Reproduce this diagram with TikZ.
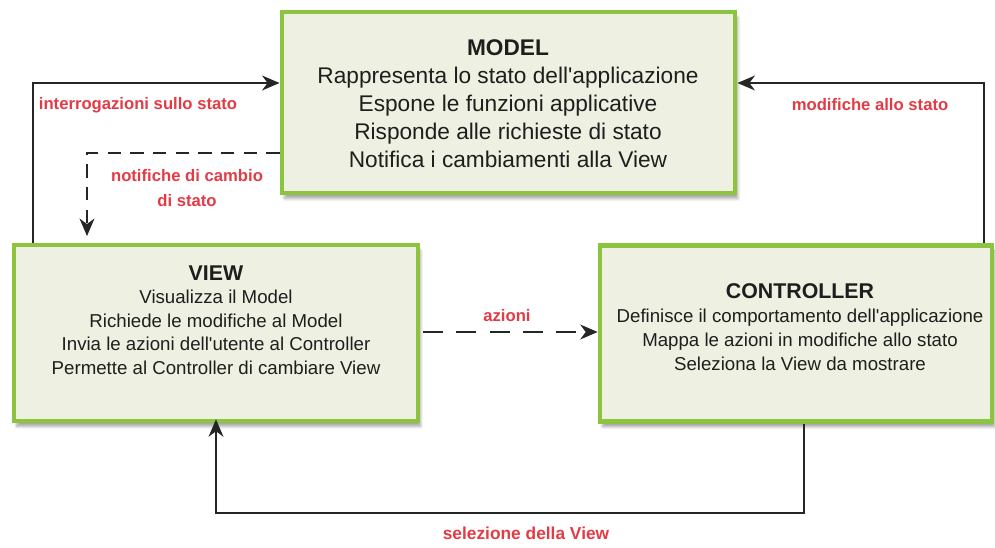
\documentclass[tikz,border=0pt]{standalone}
\usepackage{fontspec}
\setmainfont{Liberation Sans}
\usetikzlibrary{arrows.meta,shadows.blur}

\definecolor{boxgreen}{HTML}{8CC43F}
\definecolor{boxfill}{HTML}{EEF0E1}
\definecolor{labelred}{HTML}{E23B45}
\definecolor{ink}{HTML}{1E1E1E}

\newcommand{\apo}{\textquotesingle}

\tikzset{
  mvcbox/.style={draw=boxgreen, line width=3.4pt, fill=boxfill,
    blur shadow={shadow xshift=2pt, shadow yshift=-4pt, shadow blur steps=6, shadow opacity=35},
    inner sep=0pt},
  boxtext/.style={align=center, text=ink, inner sep=0pt},
  flow/.style={line width=2pt, draw=black!85, -{Stealth[length=13pt,width=11pt,inset=4pt]}},
  dashflow/.style={flow, line width=2.2pt, dash pattern=on 15pt off 10pt},
  shortdash/.style={flow, line width=2.2pt, dash pattern=on 10pt off 7pt},
  redlabel/.style={text=labelred, font=\bfseries\fontsize{12.5}{15}\selectfont, align=center, inner sep=0pt}
}

\begin{document}
\begin{tikzpicture}[x=0.75pt,y=-0.75pt]
  \useasboundingbox (0,0) rectangle (995,548);

  % the three components
  \node[mvcbox, minimum width=340pt, minimum height=136pt] (model) at (508.5,102.5) {};
  \node[mvcbox, minimum width=303pt, minimum height=132pt] (view) at (216,333) {};
  \node[mvcbox, minimum width=294pt, minimum height=132pt] (ctrl) at (796,333.5) {};

  \node[boxtext, font=\fontsize{17}{21}\selectfont] (modeltxt) at (508,104)
    {{\bfseries MODEL}\\
     Rappresenta lo stato dell\apo applicazione\\
     Espone le funzioni applicative\\
     Risponde alle richieste di stato\\
     Notifica i cambiamenti alla View};
  \node[boxtext, font=\fontsize{14}{17.7}\selectfont] (viewtxt) at (216,320)
    {{\bfseries\fontsize{16}{17.7}\selectfont VIEW}\\
     Visualizza il Model\\
     Richiede le modifiche al Model\\
     Invia le azioni dell\apo utente al Controller\\
     Permette al Controller di cambiare View};
  \node[boxtext, font=\fontsize{14}{18}\selectfont] (ctrltxt) at (800,327)
    {{\bfseries\fontsize{16}{18}\selectfont CONTROLLER}\\
     Definisce il comportamento dell\apo applicazione\\
     Mappa le azioni in modifiche allo stato\\
     Seleziona la View da mostrare};

  % bends of the connectors
  \coordinate (qbend) at (33,83);
  \coordinate (mbend) at (984,83);
  \coordinate (nbend) at (87,153);
  \coordinate (sright) at (804,513);
  \coordinate (sleft) at (216,513);
  \coordinate (arow) at (0,332);

  % view -> model: state queries
  \draw[flow] (view.north -| qbend) -- (qbend) -- (model.west |- qbend);
  % controller -> model: state changes
  \draw[flow] (ctrl.north -| mbend) -- (mbend) -- (model.east |- mbend);
  % model -> view: change notifications
  \draw[shortdash, shorten >=5pt] (model.west |- nbend) -- (nbend) -- (view.north -| nbend);
  % view -> controller: actions
  \draw[dashflow, shorten <=2pt] (view.east |- arow) -- (ctrl.west |- arow);
  % controller -> view: view selection
  \draw[flow, shorten >=-3pt] (ctrl.south -| sright) -- (sright) -- (sleft) -- (view.south -| sleft);

  % connector labels
  \node[redlabel] (lquery) at (138,105) {interrogazioni sullo stato};
  \node[redlabel] (lchange) at (870,105) {modifiche allo stato};
  \node[redlabel, font=\bfseries\fontsize{12.5}{19}\selectfont] (lnotify) at (187,188) {notifiche di cambio\\di stato};
  \node[redlabel] (lactions) at (507,316) {azioni};
  \node[redlabel, font=\bfseries\fontsize{13}{15}\selectfont] (lselect) at (526,533) {selezione della View};
\end{tikzpicture}
\end{document}
